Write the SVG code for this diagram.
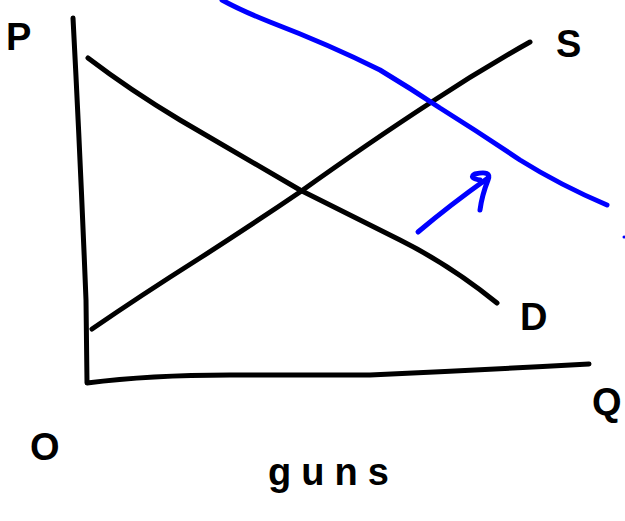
<svg xmlns="http://www.w3.org/2000/svg" width="625" height="521" viewBox="0 0 625 521">
<style>
.ln{fill:none;stroke:#000;stroke-width:5;stroke-linecap:round;stroke-linejoin:round}
.bl{fill:none;stroke:#0000ff;stroke-width:5;stroke-linecap:round;stroke-linejoin:round}
.lb{font-family:"Liberation Sans",sans-serif;font-size:38px;font-weight:bold;fill:#000}
</style>
<rect width="625" height="521" fill="#fff"/>
<g id="axes">
<path class="ln" d="M73,18 Q80,150 86,300 L87,383 Q150,375 230,375 L370,375 Q480,370 589,364"/>
</g>
<g id="connectors">
<path id="demand" class="ln" d="M88,58 Q130,90 180,120 Q240,155 300,190 Q350,215 400,240 Q450,265 497,303"/>
<path id="supply" class="ln" d="M92,329 Q140,296 200,258 Q250,226 300,192 Q370,142 430,103 Q480,70 530,42"/>
<path id="demand2" class="bl" d="M222,0 Q240,10 270,22 Q330,45 380,70 Q410,88 440,108 Q480,133 520,160 Q560,185 607,205"/>
<path id="shift" class="bl" d="M418,232 Q450,205 488,178 M480,210 Q482,195 488,180 Q492,170 475,174 Q468,178 480,180"/>
<circle cx="624" cy="237" r="1.5" fill="#0000ff"/>
</g>
<g id="label-P"><text class="lb" x="6" y="50">P</text></g>
<g id="label-S"><text class="lb" x="556" y="57">S</text></g>
<g id="label-D"><text class="lb" x="520" y="330">D</text></g>
<g id="label-Q"><text class="lb" x="592" y="415">Q</text></g>
<g id="label-O"><text class="lb" x="30" y="460">O</text></g>
<g id="label-guns"><text class="lb" x="268" y="485" font-size="42" letter-spacing="10">guns</text></g>
</svg>
